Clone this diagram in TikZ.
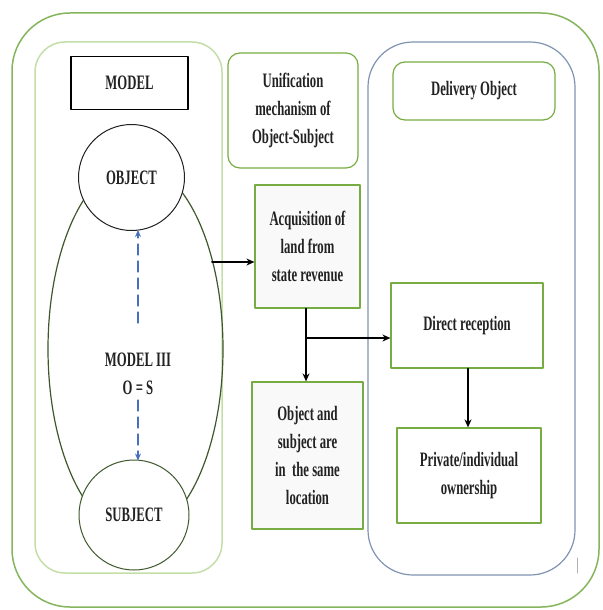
\documentclass[tikz,border=0pt]{standalone}
\usepackage{fontspec}
\setmainfont[FakeStretch=0.62]{Liberation Serif}
\usetikzlibrary{shapes.geometric,arrows.meta}
\definecolor{framegreen}{RGB}{132,181,92}
\definecolor{palegreen}{RGB}{196,222,168}
\definecolor{boxgreen}{RGB}{118,172,66}
\definecolor{frameblue}{RGB}{128,148,178}
\definecolor{dashblue}{RGB}{72,112,190}
\definecolor{ringgreen}{RGB}{62,88,44}
\definecolor{inkgray}{RGB}{34,34,34}

\begin{document}
\begin{tikzpicture}[x=1pt, y=-1pt, line join=round, line cap=round,
	font=\fontsize{20.5}{28}\selectfont\bfseries, text=inkgray,
	greenbox/.style={draw=boxgreen, line width=1.2pt, align=center, inner sep=0pt},
	roundbox/.style={greenbox, rounded corners=12pt},
	ring/.style={circle, draw=inkgray, fill=white, line width=1pt, inner sep=0pt},
	flow/.style={-{Stealth[length=8pt,width=7pt]}, line width=2pt, black},
	link/.style={-{Stealth[length=7pt,width=6pt]}, dashblue, line width=1.3pt, dash pattern=on 11pt off 6pt}]
	\useasboundingbox (0,0) rectangle (602,610);
	% frames
	\draw[framegreen, line width=1.5pt, rounded corners=58pt] (12,13) rectangle (599,607);
	\draw[palegreen, line width=1.5pt, rounded corners=30pt] (35,42) rectangle (222,573);
	\draw[frameblue, line width=1.2pt, rounded corners=45pt] (368,42) rectangle (575,575);
	% model
	\node[ellipse, draw=ringgreen, line width=1.2pt, minimum width=175pt, minimum height=370pt] (model3) at (135.5,349) {};
	\node[draw=black, line width=1.4pt, minimum width=117pt, minimum height=53pt] (model) at (129.5,83) {MODEL};
	\node[ring, minimum size=106pt] (object) at (131.5,177.5) {OBJECT};
	\node[ring, draw=ringgreen, minimum size=110pt] (subject) at (134,515) {SUBJECT};
	\node[align=center] (eq) at (138,374) {MODEL III\\O = S};
	\coordinate (d1) at (138,323);
	\coordinate (d2) at (138,400);
	\draw[link] (d1) -- ([yshift=1pt]d1 |- object.south);
	\draw[link] (d2) -- ([yshift=-1pt]d2 |- subject.north);
	% boxes
	\node[roundbox, minimum width=130pt, minimum height=115pt] (unif) at (293,110.5) {Unification\\mechanism of\\Object-Subject};
	\node[roundbox, minimum width=162pt, minimum height=58pt] (deliv) at (474,91) {Delivery Object};
	\node[greenbox, fill=gray!5, minimum width=105pt, minimum height=123pt] (acq) at (307.5,246.5) {Acquisition of\\land from\\state revenue};
	\node[greenbox, fill=gray!5, minimum width=111pt, minimum height=147pt] (objloc) at (307.5,455.5) {Object and\\subject are\\in\ \ the same\\location};
	\node[greenbox, minimum width=152pt, minimum height=85pt] (direct) at (467,325.5) {Direct reception};
	\node[greenbox, minimum width=144pt, minimum height=95pt] (priv) at (469,475.5) {Private/individual\\ownership};
	% connectors
	\coordinate (e1) at (212,262);
	\coordinate (br) at (306,338);
	\draw[flow] (e1) -- (e1 -| acq.west);
	\draw[flow] (acq.south -| br) -- (objloc.north -| br);
	\draw[flow] (br) -- (br -| direct.west);
	\draw[flow] (direct.south -| 468,0) -- (priv.north -| 468,0);
	\draw[gray!60, line width=0.8pt] (577,558) -- (577,573);
\end{tikzpicture}
\end{document}
